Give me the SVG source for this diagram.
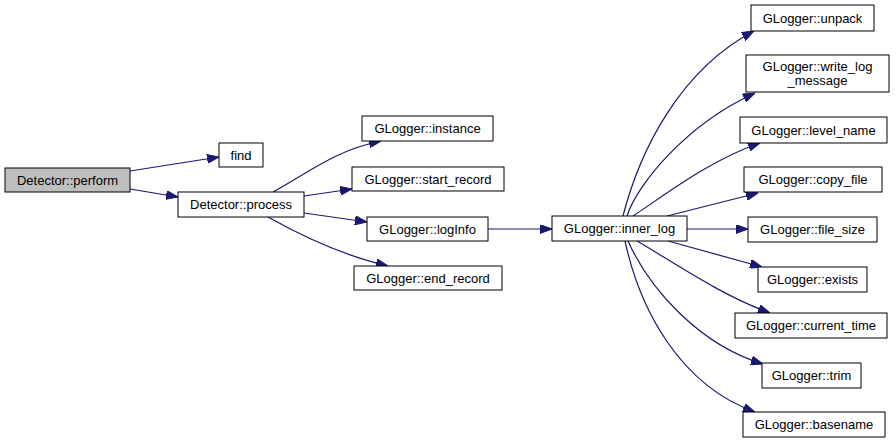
<svg xmlns="http://www.w3.org/2000/svg" width="896" height="444" viewBox="0 0 896 444">
<style>
.n rect{fill:#fff;stroke:#000;stroke-width:1}
.n text{font-family:"Liberation Sans",Arial,sans-serif;font-size:13px;text-anchor:middle;fill:#000}
.e path{fill:none;stroke:#191970;stroke-width:1.2;marker-end:url(#ah)}
</style>
<defs>
<marker id="ah" viewBox="0 0 12 9" refX="12" refY="4.5" markerWidth="12" markerHeight="9" markerUnits="userSpaceOnUse" orient="auto">
<path d="M0,0 L12,4.5 L0,9 z" fill="#191970" stroke="#191970"/>
</marker>
</defs>
<rect width="896" height="444" fill="#fff"/>
<g id="edges" class="e">
<path d="M130,171 L219,157"/>
<path d="M130,189 L178,197"/>
<path d="M273,192 C305,175 335,150 381,141"/>
<path d="M304,196 L352,189"/>
<path d="M304,213 L367,222"/>
<path d="M268,217 C300,235 340,255 388,266"/>
<path d="M488,229 L552,229"/>
<path d="M623,216 C640,150 680,70 754,31"/>
<path d="M627,216 C637,185 685,125 755,93"/>
<path d="M633,216 C665,195 710,160 760,143"/>
<path d="M667,216 L758,193"/>
<path d="M687,229 L748,229"/>
<path d="M668,241 L762,267"/>
<path d="M637,241 C670,260 720,295 770,313"/>
<path d="M628,241 C650,290 700,345 763,364"/>
<path d="M625,241 C640,310 680,385 755,412"/>
</g>
<g id="perform" class="n"><rect x="5" y="168" width="125" height="24" style="fill:#bfbfbf"/><text x="67.5" y="184.5">Detector::perform</text></g>
<g id="find" class="n"><rect x="219" y="143" width="44" height="24"/><text x="241" y="159.5">find</text></g>
<g id="process" class="n"><rect x="178" y="192" width="126" height="25"/><text x="241" y="209">Detector::process</text></g>
<g id="instance" class="n"><rect x="362" y="116" width="131" height="25"/><text x="427.5" y="133">GLogger::instance</text></g>
<g id="start_record" class="n"><rect x="352" y="167" width="152" height="24"/><text x="428" y="183.5">GLogger::start_record</text></g>
<g id="logInfo" class="n"><rect x="367" y="217" width="121" height="24"/><text x="427.5" y="233.5">GLogger::logInfo</text></g>
<g id="end_record" class="n"><rect x="354" y="266" width="148" height="24"/><text x="428" y="282.5">GLogger::end_record</text></g>
<g id="inner_log" class="n"><rect x="552" y="216" width="135" height="25"/><text x="619.5" y="233">GLogger::inner_log</text></g>
<g id="unpack" class="n"><rect x="751" y="5" width="123" height="26"/><text x="812.5" y="22.5">GLogger::unpack</text></g>
<g id="write_log_message" class="n"><rect x="746" y="55" width="143" height="37"/><text x="817.5" y="71">GLogger::write_log</text><text x="817.5" y="85">_message</text></g>
<g id="level_name" class="n"><rect x="740" y="117" width="147" height="26"/><text x="813.5" y="134.5">GLogger::level_name</text></g>
<g id="copy_file" class="n"><rect x="744" y="167" width="138" height="25"/><text x="813" y="184">GLogger::copy_file</text></g>
<g id="file_size" class="n"><rect x="748" y="217" width="129" height="25"/><text x="812.5" y="234">GLogger::file_size</text></g>
<g id="exists" class="n"><rect x="758" y="267" width="109" height="25"/><text x="812.5" y="284">GLogger::exists</text></g>
<g id="current_time" class="n"><rect x="735" y="313" width="152" height="25"/><text x="811" y="330">GLogger::current_time</text></g>
<g id="trim" class="n"><rect x="762" y="363" width="99" height="25"/><text x="811.5" y="380">GLogger::trim</text></g>
<g id="basename" class="n"><rect x="743" y="412" width="142" height="25"/><text x="814" y="429">GLogger::basename</text></g>
</svg>
